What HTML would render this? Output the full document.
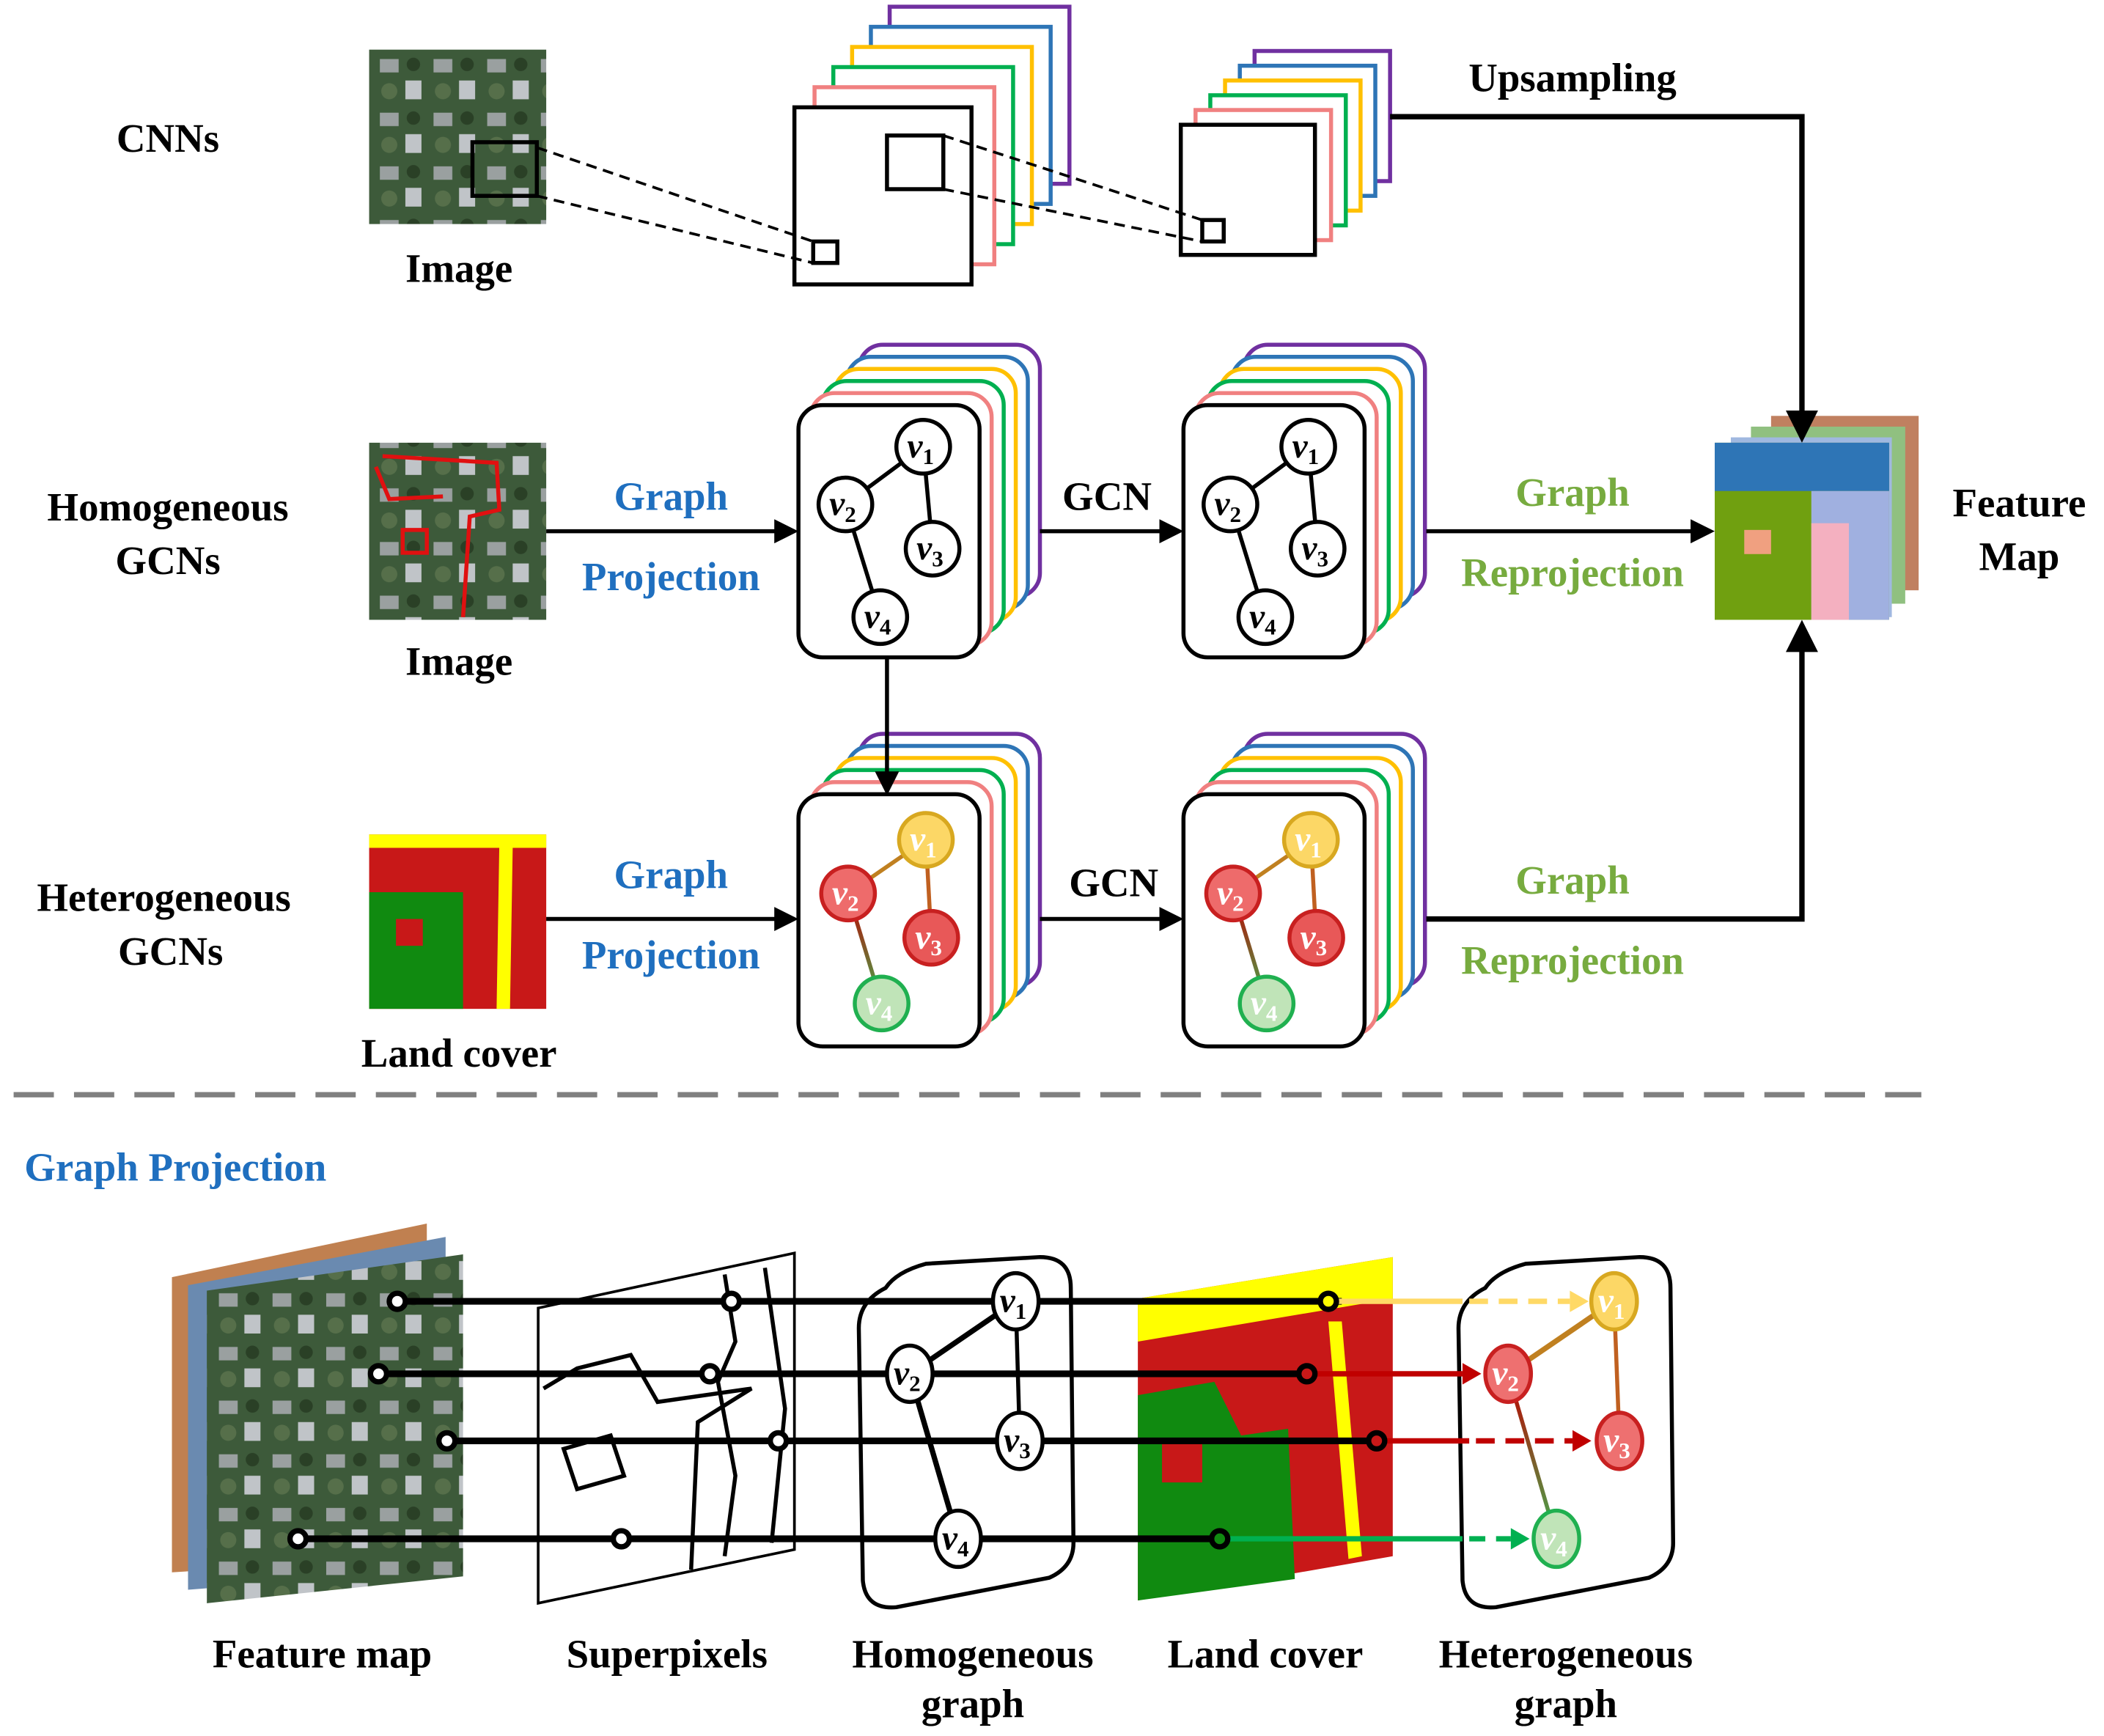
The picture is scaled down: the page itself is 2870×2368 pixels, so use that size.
<!DOCTYPE html>
<html><head><meta charset="utf-8"><style>
html,body{margin:0;padding:0;background:#fff}
svg{display:block}
text{font-family:"Liberation Serif",serif;font-weight:bold}
.v{font-style:italic;font-weight:normal;font-size:26px}
.s{font-size:17px;font-style:normal}
</style></head><body>
<svg width="2870" height="2368" viewBox="0 0 1568 1294" xmlns="http://www.w3.org/2000/svg">
<defs>
<marker id="ah" markerWidth="6" markerHeight="6" refX="5" refY="3" orient="auto" markerUnits="strokeWidth"><path d="M0,0 L6,3 L0,6 z" fill="#000"/></marker>
<g id="gstack">
<rect x="45" y="-45" width="135" height="188" rx="18" fill="#fff" stroke="#7030a0" stroke-width="3"/>
<rect x="36" y="-36" width="135" height="188" rx="18" fill="#fff" stroke="#2e75b6" stroke-width="3"/>
<rect x="27" y="-27" width="135" height="188" rx="18" fill="#fff" stroke="#ffc000" stroke-width="3"/>
<rect x="18" y="-18" width="135" height="188" rx="18" fill="#fff" stroke="#00b050" stroke-width="3"/>
<rect x="9" y="-9" width="135" height="188" rx="18" fill="#fff" stroke="#f08080" stroke-width="3"/>
<rect x="0" y="0" width="135" height="188" rx="18" fill="#fff" stroke="#000" stroke-width="3"/>
</g>
<linearGradient id="ge" x1="0" y1="0" x2="0" y2="1"><stop offset="0" stop-color="#c00000"/><stop offset="1" stop-color="#40b050"/></linearGradient>
<pattern id="sat" width="40" height="40" patternUnits="userSpaceOnUse">
<rect width="40" height="40" fill="#3d5a3a"/><rect x="3" y="4" width="14" height="10" fill="#9aa0a0"/><rect x="22" y="20" width="12" height="14" fill="#c0c4c8"/><circle cx="28" cy="8" r="5" fill="#2a4026"/><circle cx="10" cy="28" r="6" fill="#566f4a"/>
</pattern>
</defs>

<g font-size="30" text-anchor="middle">
<text x="125" y="113">CNNs</text>
<text x="125" y="388">Homogeneous</text>
<text x="125" y="428">GCNs</text>
<text x="122" y="679">Heterogeneous</text>
<text x="127" y="719">GCNs</text>
</g>

<!-- Row 1 -->
<rect x="275" y="37" width="132" height="130" fill="url(#sat)"/>
<rect x="352" y="106" width="48" height="40" fill="none" stroke="#000" stroke-width="3"/>
<text x="342" y="210" font-size="30" text-anchor="middle">Image</text>
<g fill="#fff" stroke-width="3">
<rect x="663" y="5" width="134" height="132" stroke="#7030a0"/>
<rect x="649" y="20" width="134" height="132" stroke="#2e75b6"/>
<rect x="635" y="35" width="134" height="132" stroke="#ffc000"/>
<rect x="621" y="50" width="134" height="132" stroke="#00b050"/>
<rect x="607" y="65" width="134" height="132" stroke="#f08080"/>
<rect x="592" y="80" width="132" height="132" stroke="#000"/>
</g>
<rect x="606" y="180" width="18" height="16" fill="none" stroke="#000" stroke-width="3"/>
<rect x="661" y="101" width="42" height="40" fill="none" stroke="#000" stroke-width="3"/>
<line x1="400" y1="110" x2="606" y2="180" stroke="#000" stroke-width="2" stroke-dasharray="8,5"/>
<line x1="400" y1="146" x2="606" y2="196" stroke="#000" stroke-width="2" stroke-dasharray="8,5"/>
<g fill="#fff" stroke-width="3">
<rect x="935" y="38" width="101" height="97" stroke="#7030a0"/>
<rect x="924" y="49" width="101" height="97" stroke="#2e75b6"/>
<rect x="913" y="60" width="101" height="97" stroke="#ffc000"/>
<rect x="902" y="71" width="101" height="97" stroke="#00b050"/>
<rect x="891" y="82" width="101" height="97" stroke="#f08080"/>
<rect x="880" y="93" width="100" height="97" stroke="#000"/>
</g>
<rect x="896" y="164" width="16" height="16" fill="none" stroke="#000" stroke-width="3"/>
<line x1="703" y1="101" x2="896" y2="164" stroke="#000" stroke-width="2" stroke-dasharray="8,5"/>
<line x1="703" y1="141" x2="896" y2="180" stroke="#000" stroke-width="2" stroke-dasharray="8,5"/>
<text x="1172" y="68" font-size="30" text-anchor="middle">Upsampling</text>

<!-- Feature map output -->
<rect x="1320" y="310" width="110" height="130" fill="#c08060"/>
<rect x="1305" y="318" width="115" height="132" fill="#90c080"/>
<rect x="1290" y="326" width="120" height="134" fill="#a0b8e0"/>
<rect x="1278" y="330" width="130" height="132" fill="#70a010"/>
<rect x="1278" y="330" width="130" height="36" fill="#2e75b6"/>
<rect x="1350" y="366" width="58" height="96" fill="#a0b0e0"/>
<rect x="1350" y="390" width="28" height="72" fill="#f4b0c0"/>
<rect x="1300" y="395" width="20" height="18" fill="#f0a080"/>
<text x="1505" y="385" font-size="30" text-anchor="middle">Feature</text>
<text x="1505" y="425" font-size="30" text-anchor="middle">Map</text>
<polyline points="1036,87 1343,87 1343,326" fill="none" stroke="#000" stroke-width="4" marker-end="url(#ah)"/>

<!-- Row 2 -->
<rect x="275" y="330" width="132" height="132" fill="url(#sat)"/>
<path d="M285,340 L370,345 L372,380 L350,385 L345,460 M300,395 L318,395 L318,412 L300,412Z M280,348 L290,372 L330,370" fill="none" stroke="#e01010" stroke-width="3"/>
<text x="342" y="503" font-size="30" text-anchor="middle">Image</text>
<line x1="407" y1="396" x2="592" y2="396" stroke="#000" stroke-width="3" marker-end="url(#ah)"/>
<text x="500" y="380" font-size="30" fill="#1f6fbf" text-anchor="middle">Graph</text>
<text x="500" y="440" font-size="30" fill="#1f6fbf" text-anchor="middle">Projection</text>
<use href="#gstack" x="595" y="302"/>
<use href="#gstack" x="882" y="302"/>
<text x="825" y="380" font-size="30" text-anchor="middle">GCN</text>
<line x1="775" y1="396" x2="879" y2="396" stroke="#000" stroke-width="3" marker-end="url(#ah)"/>
<text x="1172" y="377" font-size="30" fill="#77ab3f" text-anchor="middle">Graph</text>
<text x="1172" y="437" font-size="30" fill="#77ab3f" text-anchor="middle">Reprojection</text>
<line x1="1063" y1="396" x2="1275" y2="396" stroke="#000" stroke-width="3" marker-end="url(#ah)"/>

<g stroke="#000" stroke-width="3" fill="#fff">
<line x1="688" y1="333" x2="630" y2="376"/><line x1="688" y1="333" x2="695" y2="409"/><line x1="630" y1="376" x2="656" y2="460"/>
<circle cx="688" cy="333" r="20"/><circle cx="630" cy="376" r="20"/><circle cx="695" cy="409" r="20"/><circle cx="656" cy="460" r="20"/>
<line x1="975" y1="333" x2="917" y2="376"/><line x1="975" y1="333" x2="982" y2="409"/><line x1="917" y1="376" x2="943" y2="460"/>
<circle cx="975" cy="333" r="20"/><circle cx="917" cy="376" r="20"/><circle cx="982" cy="409" r="20"/><circle cx="943" cy="460" r="20"/>
</g>
<g class="v" text-anchor="middle">
<text x="686" y="341">v<tspan class="s" dy="5">1</tspan></text>
<text x="628" y="384">v<tspan class="s" dy="5">2</tspan></text>
<text x="693" y="417">v<tspan class="s" dy="5">3</tspan></text>
<text x="654" y="468">v<tspan class="s" dy="5">4</tspan></text>
<text x="973" y="341">v<tspan class="s" dy="5">1</tspan></text>
<text x="915" y="384">v<tspan class="s" dy="5">2</tspan></text>
<text x="980" y="417">v<tspan class="s" dy="5">3</tspan></text>
<text x="941" y="468">v<tspan class="s" dy="5">4</tspan></text>
</g>

<!-- Row 3 -->
<rect x="275" y="622" width="132" height="130" fill="#c81818"/>
<path d="M275,622 H407 V632 H275Z" fill="#ffff00"/>
<path d="M275,665 H345 V752 H275Z" fill="#108a10"/>
<rect x="295" y="685" width="20" height="20" fill="#c81818"/>
<path d="M372,632 L382,632 L380,752 L370,752Z" fill="#ffff00"/>
<line x1="407" y1="685" x2="592" y2="685" stroke="#000" stroke-width="3" marker-end="url(#ah)"/>
<text x="500" y="662" font-size="30" fill="#1f6fbf" text-anchor="middle">Graph</text>
<text x="500" y="722" font-size="30" fill="#1f6fbf" text-anchor="middle">Projection</text>
<text x="342" y="795" font-size="30" text-anchor="middle">Land cover</text>
<use href="#gstack" x="595" y="592"/>
<use href="#gstack" x="882" y="592"/>
<line x1="661" y1="490" x2="661" y2="590" stroke="#000" stroke-width="3" marker-end="url(#ah)"/>
<text x="830" y="668" font-size="30" text-anchor="middle">GCN</text>
<line x1="775" y1="685" x2="879" y2="685" stroke="#000" stroke-width="3" marker-end="url(#ah)"/>
<text x="1172" y="666" font-size="30" fill="#77ab3f" text-anchor="middle">Graph</text>
<text x="1172" y="726" font-size="30" fill="#77ab3f" text-anchor="middle">Reprojection</text>
<polyline points="1063,685 1343,685 1343,466" fill="none" stroke="#000" stroke-width="4" marker-end="url(#ah)"/>

<g stroke-width="3">
<line x1="690" y1="626" x2="632" y2="666" stroke="#c08020"/><line x1="690" y1="626" x2="694" y2="699" stroke="#c06020"/><line x1="632" y1="666" x2="657" y2="748" stroke="url(#ge)"/>
<circle cx="690" cy="626" r="20" fill="#fcd766" stroke="#d8a820"/><circle cx="632" cy="666" r="20" fill="#ee6b6b" stroke="#c82020"/><circle cx="694" cy="699" r="20" fill="#e85858" stroke="#c82020"/><circle cx="657" cy="748" r="20" fill="#c0e4b8" stroke="#20b050"/>
<line x1="977" y1="626" x2="919" y2="666" stroke="#c08020"/><line x1="977" y1="626" x2="981" y2="699" stroke="#c06020"/><line x1="919" y1="666" x2="944" y2="748" stroke="url(#ge)"/>
<circle cx="977" cy="626" r="20" fill="#fcd766" stroke="#d8a820"/><circle cx="919" cy="666" r="20" fill="#ee6b6b" stroke="#c82020"/><circle cx="981" cy="699" r="20" fill="#e85858" stroke="#c82020"/><circle cx="944" cy="748" r="20" fill="#c0e4b8" stroke="#20b050"/>
</g>
<g class="v" text-anchor="middle" fill="#fff">
<text x="688" y="634">v<tspan class="s" dy="5">1</tspan></text>
<text x="630" y="674">v<tspan class="s" dy="5">2</tspan></text>
<text x="692" y="707">v<tspan class="s" dy="5">3</tspan></text>
<text x="655" y="756">v<tspan class="s" dy="5">4</tspan></text>
<text x="975" y="634">v<tspan class="s" dy="5">1</tspan></text>
<text x="917" y="674">v<tspan class="s" dy="5">2</tspan></text>
<text x="979" y="707">v<tspan class="s" dy="5">3</tspan></text>
<text x="942" y="756">v<tspan class="s" dy="5">4</tspan></text>
</g>

<line x1="10" y1="816" x2="1432" y2="816" stroke="#808080" stroke-width="4" stroke-dasharray="30,15"/>
<text x="18" y="880" font-size="30" fill="#1f6fbf">Graph Projection</text>

<!-- Bottom -->
<polygon points="128,952 318,912 318,1160 128,1172" fill="#c08050"/>
<polygon points="140,958 332,922 332,1170 140,1185" fill="#6a8ab0"/>
<polygon points="154,962 345,935 345,1175 154,1195" fill="url(#sat)"/>
<polygon points="401,975 592,934 592,1155 401,1195" fill="#fff" stroke="#000" stroke-width="2"/>
<path d="M540,950 L548,1000 L535,1030 L548,1100 L540,1160 M570,945 L585,1050 L575,1150 M405,1035 L430,1020 L470,1010 L490,1045 L560,1035 L520,1060 L515,1170 M420,1080 L455,1070 L465,1100 L430,1110Z" fill="none" stroke="#000" stroke-width="3"/>
<path d="M660,960 Q668,948 690,942 L775,937 Q798,937 798,960 L800,1150 Q800,1168 782,1176 L668,1198 Q645,1200 643,1178 L640,990 Q640,970 660,960Z" fill="#fff" stroke="#000" stroke-width="3"/>
<path d="M1107,960 Q1115,948 1137,942 L1222,937 Q1245,937 1245,960 L1247,1150 Q1247,1168 1229,1176 L1115,1198 Q1092,1200 1090,1178 L1087,990 Q1087,970 1107,960Z" fill="#fff" stroke="#000" stroke-width="3"/>
<polygon points="848,968 1038,937 1038,1160 848,1193" fill="#c81818"/>
<polygon points="848,968 1038,937 1038,968 848,1000" fill="#ffff00"/>
<polygon points="848,1040 905,1030 925,1070 960,1065 965,1177 848,1193" fill="#108a10"/>
<rect x="866" y="1075" width="30" height="30" fill="#c81818"/>
<polygon points="990,985 1000,985 1015,1160 1005,1162" fill="#ffff00"/>
<g stroke="#000" stroke-width="5">
<line x1="296" y1="970" x2="1000" y2="970"/>
<line x1="282" y1="1024" x2="974" y2="1024"/>
<line x1="333" y1="1074" x2="1026" y2="1074"/>
<line x1="222" y1="1147" x2="909" y2="1147"/>
</g>
<g stroke-width="4" fill="none">
<line x1="995" y1="970" x2="1090" y2="970" stroke="#ffd966"/><line x1="1095" y1="970" x2="1170" y2="970" stroke="#ffd966" stroke-dasharray="14,8"/><polygon points="1170,962 1184,970 1170,978" fill="#ffd966" stroke="none"/>
<line x1="978" y1="1024" x2="1090" y2="1024" stroke="#c00000"/><polygon points="1090,1016 1104,1024 1090,1032" fill="#c00000" stroke="none"/>
<line x1="1030" y1="1074" x2="1095" y2="1074" stroke="#c00000"/><line x1="1100" y1="1074" x2="1172" y2="1074" stroke="#c00000" stroke-dasharray="14,8"/><polygon points="1172,1066 1186,1074 1172,1082" fill="#c00000" stroke="none"/>
<line x1="913" y1="1147" x2="1090" y2="1147" stroke="#00b050"/><line x1="1095" y1="1147" x2="1126" y2="1147" stroke="#00b050" stroke-dasharray="12,8"/><polygon points="1126,1139 1140,1147 1126,1155" fill="#00b050" stroke="none"/>
</g>
<g fill="#fff" stroke="#000" stroke-width="4">
<circle cx="296" cy="970" r="6"/><circle cx="282" cy="1024" r="6"/><circle cx="333" cy="1074" r="6"/><circle cx="222" cy="1147" r="6"/>
<circle cx="545" cy="970" r="6"/><circle cx="529" cy="1024" r="6"/><circle cx="580" cy="1074" r="6"/><circle cx="463" cy="1147" r="6"/>
<circle cx="990" cy="970" r="6" fill="#ffff00"/><circle cx="974" cy="1024" r="6" fill="#c81818"/><circle cx="1026" cy="1074" r="6" fill="#c81818"/><circle cx="909" cy="1147" r="6" fill="#108a10"/>
</g>
<g stroke="#000" stroke-width="3" fill="#fff">
<line x1="757" y1="970" x2="678" y2="1024" stroke-width="4"/><line x1="757" y1="970" x2="760" y2="1074"/><line x1="678" y1="1024" x2="714" y2="1147" stroke-width="4"/>
<ellipse cx="757" cy="970" rx="17" ry="21"/><ellipse cx="678" cy="1024" rx="17" ry="21"/><ellipse cx="760" cy="1074" rx="17" ry="21"/><ellipse cx="714" cy="1147" rx="17" ry="21"/>
</g>
<g stroke-width="3">
<line x1="1203" y1="970" x2="1124" y2="1024" stroke="#c08020" stroke-width="4"/><line x1="1203" y1="970" x2="1207" y2="1074" stroke="#c06020"/><line x1="1124" y1="1024" x2="1160" y2="1147" stroke="url(#ge)"/>
<ellipse cx="1203" cy="970" rx="17" ry="21" fill="#fcd766" stroke="#d8a820"/><ellipse cx="1124" cy="1024" rx="17" ry="21" fill="#ee7070" stroke="#c82020"/><ellipse cx="1207" cy="1074" rx="17" ry="21" fill="#ee7070" stroke="#c82020"/><ellipse cx="1160" cy="1147" rx="17" ry="21" fill="#c0e4b8" stroke="#20b050"/>
</g>
<g class="v" text-anchor="middle">
<text x="755" y="978">v<tspan class="s" dy="5">1</tspan></text>
<text x="676" y="1032">v<tspan class="s" dy="5">2</tspan></text>
<text x="758" y="1082">v<tspan class="s" dy="5">3</tspan></text>
<text x="712" y="1155">v<tspan class="s" dy="5">4</tspan></text>
</g>
<g class="v" text-anchor="middle" fill="#fff">
<text x="1201" y="978">v<tspan class="s" dy="5">1</tspan></text>
<text x="1122" y="1032">v<tspan class="s" dy="5">2</tspan></text>
<text x="1205" y="1082">v<tspan class="s" dy="5">3</tspan></text>
<text x="1158" y="1155">v<tspan class="s" dy="5">4</tspan></text>
</g>
<g font-size="30" text-anchor="middle">
<text x="240" y="1243">Feature map</text>
<text x="497" y="1243">Superpixels</text>
<text x="725" y="1243">Homogeneous</text>
<text x="725" y="1280">graph</text>
<text x="943" y="1243">Land cover</text>
<text x="1167" y="1243">Heterogeneous</text>
<text x="1167" y="1280">graph</text>
</g>
</svg>
</body></html>
